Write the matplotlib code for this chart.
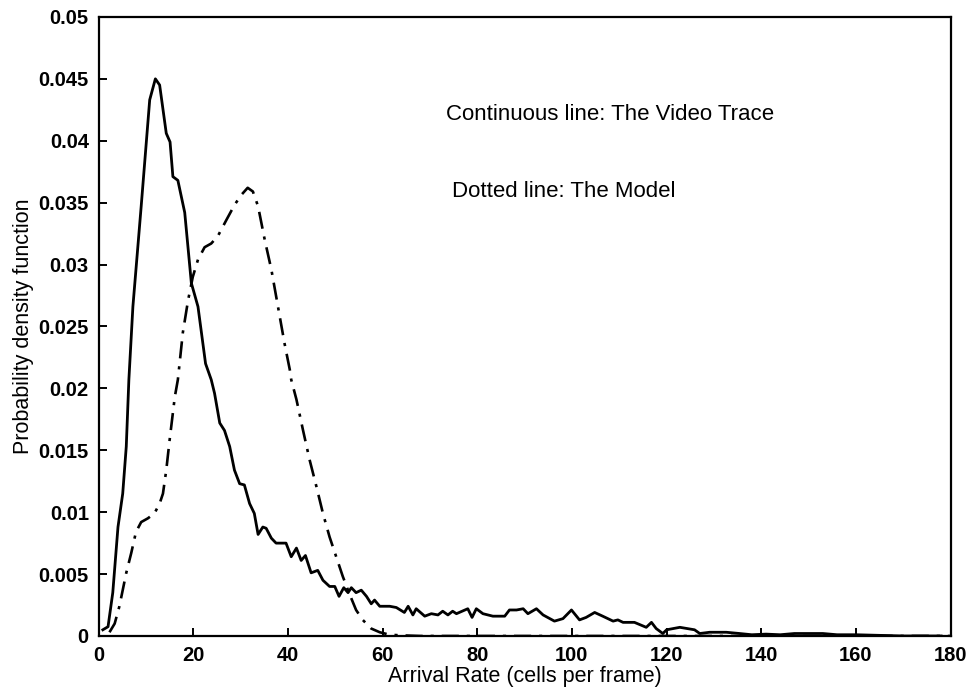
import numpy as np
import matplotlib.pyplot as plt
from matplotlib.ticker import FuncFormatter

plt.rcParams['font.family'] = ['Liberation Sans', 'DejaVu Sans']

# Continuous line: la traça de vídeo (llegida de la imatge)
x_video = [0.9, 2.0, 3.0, 4.1, 5.1, 5.85, 6.4, 7.25, 9.0, 10.8, 12.0, 12.9, 14.3, 15.1,
           15.7, 16.75, 18.2, 19.6, 21.0, 22.6, 23.8, 24.5, 25.6, 26.6, 27.7, 28.7, 29.8,
           30.8, 31.9, 32.9, 33.7, 34.7, 35.4, 36.5, 37.5, 39.6, 40.7, 41.8, 42.8, 43.7,
           44.9, 46.3, 47.4, 48.8, 49.9, 50.8, 51.8, 52.7, 53.4, 54.4, 55.5, 56.6, 57.6,
           58.3, 59.4, 61.5, 62.9, 64.6, 65.4, 66.4, 67.1, 68.9, 70.3, 71.7, 72.7, 73.8,
           74.8, 75.6, 78.0, 78.9, 79.8, 81.2, 83.3, 85.8, 86.8, 88.3, 89.7, 90.7, 92.5,
           93.9, 96.3, 98.1, 99.9, 101.6, 103.0, 104.8, 106.5, 108.7, 109.7, 110.8, 113.2,
           115.7, 116.8, 117.8, 119.2, 120.0, 122.8, 125.9, 127.0, 129.1, 132.6, 135.4,
           138.0, 141.0, 144.0, 147.0, 150.0, 153.0, 156.0, 160.0, 165.0, 170.0, 178.0]
y_video = [0.0005, 0.00075, 0.0035, 0.0088, 0.0115, 0.0153, 0.0207, 0.0266, 0.0347, 0.0433,
           0.0450, 0.0445, 0.0406, 0.0399, 0.0371, 0.0368, 0.0342, 0.0285, 0.0266, 0.0220,
           0.0207, 0.0196, 0.0172, 0.0166, 0.0153, 0.0134, 0.0123, 0.0122, 0.0107, 0.0099,
           0.0082, 0.0088, 0.0087, 0.0079, 0.0075, 0.0075, 0.0064, 0.0071, 0.0061, 0.0065,
           0.0051, 0.0053, 0.0045, 0.0040, 0.0040, 0.0032, 0.0039, 0.0035, 0.0039, 0.0035,
           0.0037, 0.0032, 0.0026, 0.0029, 0.0024, 0.0024, 0.0023, 0.0019, 0.0024, 0.0017,
           0.0022, 0.0016, 0.0018, 0.0017, 0.0020, 0.0017, 0.0020, 0.0018, 0.0022, 0.0015,
           0.0022, 0.0018, 0.0016, 0.0016, 0.0021, 0.0021, 0.0022, 0.0018, 0.0022, 0.0017,
           0.0012, 0.0014, 0.0021, 0.0013, 0.0015, 0.0019, 0.0016, 0.0012, 0.0013, 0.0011,
           0.0011, 0.0007, 0.0011, 0.0006, 0.0002, 0.0005, 0.0007, 0.0005, 0.0002, 0.0003,
           0.0003, 0.0002, 0.0001, 0.00015, 0.0001, 0.0002, 0.0002, 0.0002, 0.0001, 0.0001,
           0.00005, 0.0, 0.0]

# Dotted line: el model
x_model = [2.3, 3.4, 4.4, 5.85, 6.9, 7.9, 9.0, 10.4, 11.8, 12.9, 13.6, 14.3, 15.0, 16.1,
           16.75, 17.8, 18.9, 19.9, 21.0, 22.4, 23.8, 25.2, 27.0, 28.7, 30.1, 31.5, 32.6,
           33.7, 35.1, 36.5, 37.9, 39.3, 40.4, 40.7, 41.8, 43.2, 44.6, 46.0, 47.4, 48.8,
           50.2, 51.6, 53.0, 54.4, 55.8, 57.6, 59.4, 61.5, 64.0, 68.0, 80.0, 180.0]
y_model = [0.0003, 0.0010, 0.0024, 0.0051, 0.0067, 0.0084, 0.0092, 0.0095, 0.0099, 0.0107,
           0.0115, 0.0134, 0.0158, 0.0193, 0.0207, 0.0245, 0.0271, 0.0290, 0.0304, 0.0314,
           0.0317, 0.0323, 0.0336, 0.0348, 0.0356, 0.0362, 0.0359, 0.0347, 0.0320, 0.0296,
           0.0266, 0.0236, 0.0215, 0.0207, 0.0191, 0.0166, 0.0142, 0.0121, 0.0099, 0.0080,
           0.0064, 0.0048, 0.0034, 0.0021, 0.0013, 0.0006, 0.0003, 0.0001, 0.00005, 0.0,
           0.0, 0.0]

xticks = np.arange(0, 181, 20)
yticks = np.arange(0, 0.0501, 0.005)

fig = plt.figure(figsize=(9.76, 6.94), dpi=100)
ax = fig.add_axes([0.101, 0.0836, 0.873, 0.892])

ax.plot(x_video, y_video, color='black', lw=2.0)
ax.plot(x_model, y_model, color='black', lw=1.9, linestyle=(0, (6.5, 3, 1.2, 3)))

ax.set_xlim(0, 180)
ax.set_ylim(0, 0.05)
ax.set_xticks(xticks)
ax.set_yticks(yticks)
ax.yaxis.set_major_formatter(FuncFormatter(lambda v, p: '%g' % round(v, 4)))
ax.tick_params(direction='in', length=6, width=1.4, labelsize=14.5, pad=7)
for lab in ax.get_xticklabels() + ax.get_yticklabels():
    lab.set_fontweight('bold')
for s in ax.spines.values():
    s.set_linewidth(1.6)

ax.set_xlabel('Arrival Rate (cells per frame)', fontsize=15.5, labelpad=1)
ax.set_ylabel('Probability density function', fontsize=15.5, labelpad=3)

ax.text(73.3, 0.0421, 'Continuous line: The Video Trace', fontsize=16, va='center')
ax.text(74.6, 0.0359, 'Dotted line: The Model', fontsize=16, va='center')

fig.savefig('out.png', dpi=100)
